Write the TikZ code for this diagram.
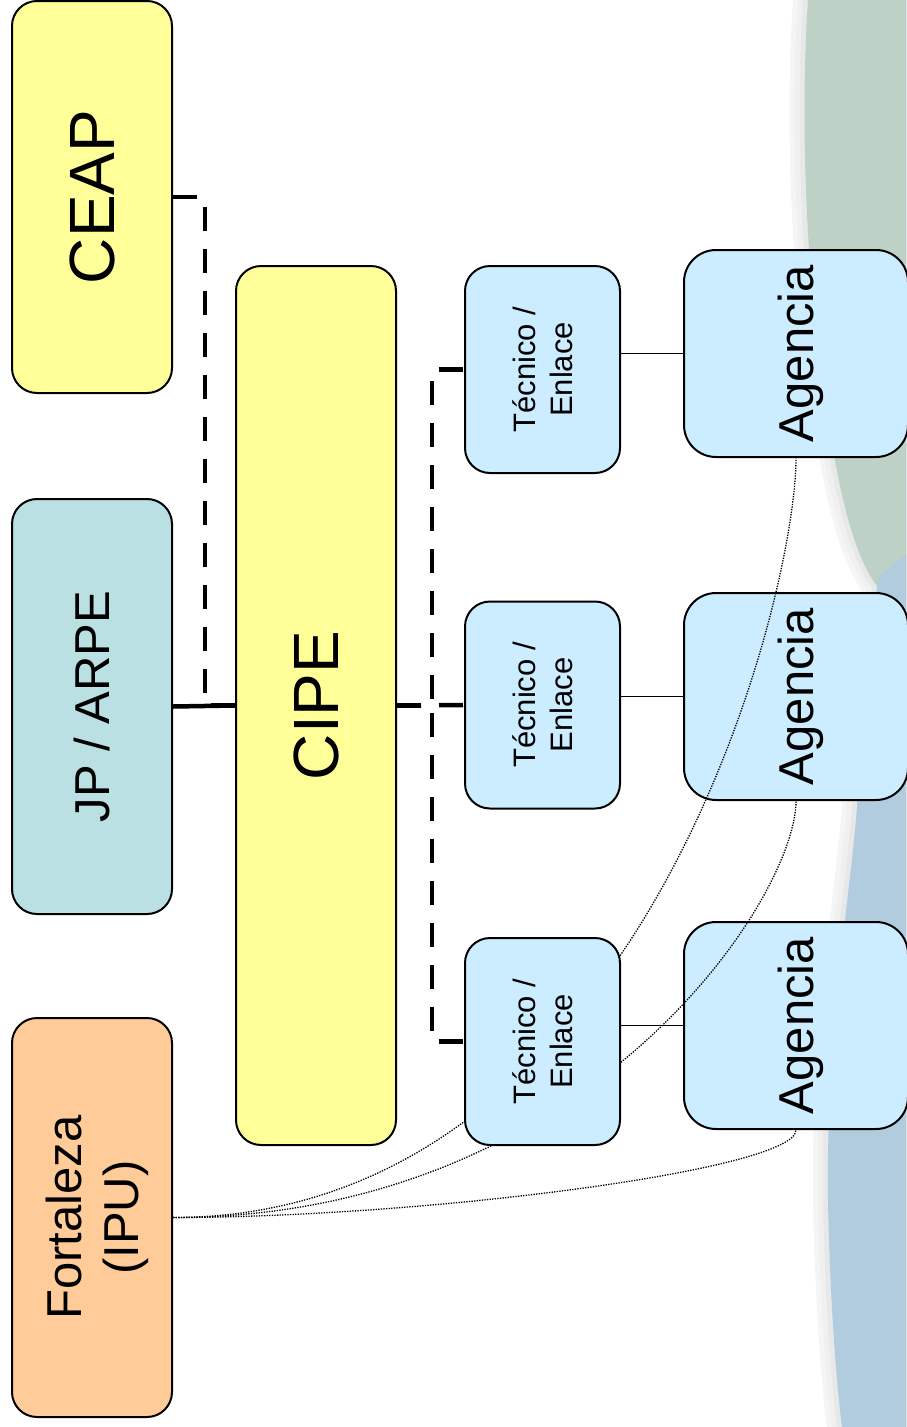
\documentclass[tikz,border=0pt]{standalone}
\usepackage{fontspec}
\setmainfont{Liberation Sans}
\usepackage{graphicx}

\definecolor{cipeyellow}{HTML}{FFFF99}
\definecolor{jpteal}{HTML}{BBE0E3}
\definecolor{fortpeach}{HTML}{FFCC99}
\definecolor{agblue}{HTML}{CCECFF}
\definecolor{wavegreen}{HTML}{BDD1C7}
\definecolor{waveblue}{HTML}{B0CCDE}

\newcommand{\vlabel}[1]{\hspace{0.25em}\rotatebox{90}{\begin{tabular}{@{}c@{}}#1\end{tabular}}}

\begin{document}
\begin{tikzpicture}[x=1pt,y=-1pt,
      orgbox/.style={draw=black, line width=2pt, rounded corners=25pt, inner sep=0pt},
      bigfont/.style={font=\fontsize{64}{74}\selectfont},
      midfont/.style={font=\fontsize{49}{57}\selectfont},
      smallfont/.style={font=\fontsize{31}{37}\selectfont},
      dashlink/.style={line width=4.5pt, dash pattern=on 24pt off 18pt},
      solidlink/.style={line width=4.5pt},
      thinlink/.style={line width=1.8pt},
      dotlink/.style={line width=1.3pt, dash pattern=on 1.3pt off 1.3pt}]
      \useasboundingbox (0,0) rectangle (906,1427);
      % background waves on the right
      \path[save path=\greenwave] (808,0) .. controls (800,120) and (805,300) .. (833,450)
        .. controls (842,500) and (855,560) .. (880,590) -- (906,600) -- (906,0) -- cycle;
      \path[save path=\bluewave] (906,555) -- (880,575) .. controls (862,650) and (862,760) .. (855,830)
        .. controls (845,930) and (826,1050) .. (828,1200) .. controls (830,1300) and (836,1380) .. (842,1427)
        -- (906,1427) -- cycle;
      \foreach \w/\c in {30/4,20/6,10/9} % soft shadow
      {
        \draw[use path=\greenwave, line width=\w pt, black!\c];
        \draw[use path=\bluewave, line width=\w pt, black!\c];
      }
      \fill[use path=\greenwave, wavegreen];
      \fill[use path=\bluewave, waveblue];
      % agencias
      \foreach \i/\ay in {1/353.5,2/696.5,3/1025.5}
      \node[orgbox, rounded corners=32pt, fill=agblue, minimum width=224pt, minimum height=207pt, midfont] (ag\i) at (796,\ay) {\vlabel{Agencia}};
      % left column and CIPE
      \node[orgbox, fill=cipeyellow, minimum width=160pt, minimum height=392pt, bigfont] (ceap) at (92,197) {\vlabel{CEAP}};
      \node[orgbox, fill=jpteal, minimum width=160pt, minimum height=415pt, midfont] (jp) at (92,706.5) {\vlabel{JP / ARPE}};
      \node[orgbox, fill=fortpeach, minimum width=160pt, minimum height=399pt, midfont] (fort) at (92,1217.5) {\vlabel{Fortaleza\\(IPU)}};
      \node[orgbox, fill=cipeyellow, minimum width=160pt, minimum height=879pt, bigfont] (cipe) at (316,705.5) {\vlabel{CIPE}};
      % dotted links from Fortaleza
      \draw[dotlink] (fort.east) .. controls +(469,0) and +(0,141) .. (ag1.south);
      \draw[dotlink] (fort.east) .. controls +(416,0) and +(0,97) .. (ag2.south);
      \draw[dotlink] (fort.east) .. controls +(250,0) and +(0,40) .. (ag3.south);
      % tecnicos
      \foreach \i/\ty in {1/369.5,2/705,3/1041.5}
      \node[orgbox, fill=agblue, minimum width=155pt, minimum height=207pt, smallfont] (tec\i) at (542.5,\ty) {\vlabel{Técnico /\\Enlace}};
      \foreach \i in {1,2,3}
      \draw[thinlink] (ag\i.west) -- (ag\i.west -| tec\i.east);
      % org chart links
      \draw[dashlink] (ceap.east) -- ++(32,0) |- (cipe.west);
      \draw[solidlink] (jp.east) -- (cipe.west);
      \draw[dashlink] (cipe.east) -- ++(35,0) |- (tec1.west);
      \draw[dashlink] (cipe.east) -- (tec2.west);
      \draw[dashlink] (cipe.east) -- ++(35,0) |- (tec3.west);
    \end{tikzpicture}
\end{document}
